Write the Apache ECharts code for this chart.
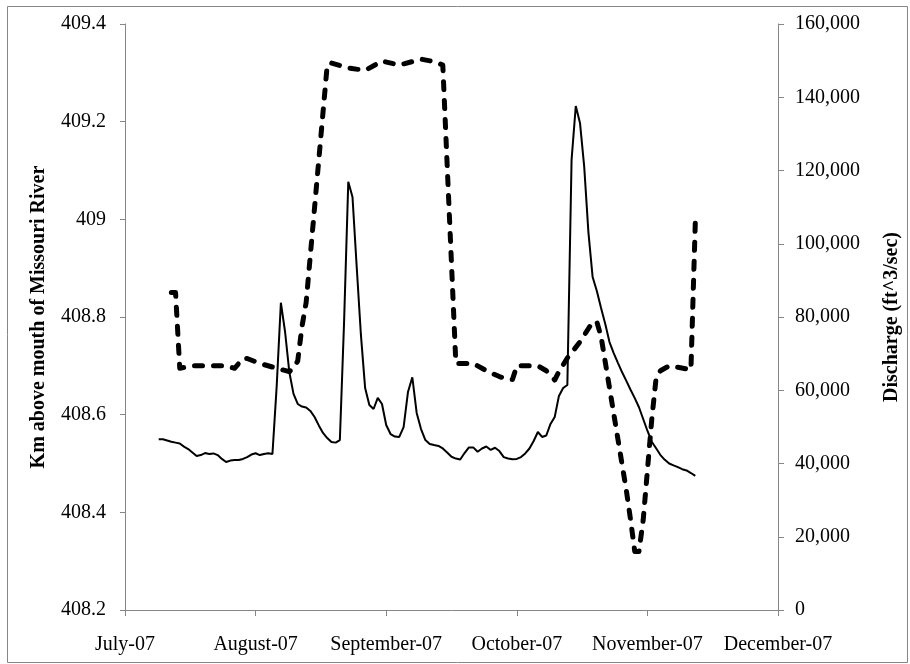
<!DOCTYPE html>
<html>
<head>
<meta charset="utf-8">
<script src="https://cdn.jsdelivr.net/npm/echarts@6/dist/echarts.min.js"></script>
<style>
  html, body { margin: 0; padding: 0; background: #fff; }
  #chart { width: 910px; height: 664px; }
</style>
</head>
<body>
<div id="chart"></div>
<script>
// X axis tick labels (one per month, equally spaced)
const monthLabels = ['July-07', 'August-07', 'September-07', 'October-07', 'November-07', 'December-07'];

// Location (km above mouth of Missouri River) – dashed line, left axis
const kmDates = ['2007-07-12','2007-07-13','2007-07-14','2007-07-17','2007-07-20','2007-07-25','2007-07-27',
  '2007-07-29','2007-07-30','2007-08-02','2007-08-06','2007-08-09','2007-08-10','2007-08-11','2007-08-12',
  '2007-08-13','2007-08-18','2007-08-19','2007-08-23','2007-08-27','2007-08-31','2007-09-04','2007-09-07',
  '2007-09-09','2007-09-12','2007-09-14','2007-09-17','2007-09-19','2007-09-21','2007-09-24','2007-09-27',
  '2007-09-29','2007-09-30','2007-10-01','2007-10-06','2007-10-08','2007-10-10','2007-10-11','2007-10-13',
  '2007-10-16','2007-10-19','2007-10-20','2007-10-21','2007-10-27','2007-10-28','2007-10-29','2007-10-30',
  '2007-10-31','2007-11-02','2007-11-03','2007-11-04','2007-11-06','2007-11-08','2007-11-11','2007-11-12'];
const kmValues = [408.85, 408.85, 408.695, 408.70, 408.70, 408.70, 408.695,
  408.715, 408.715, 408.705, 408.695, 408.688, 408.695, 408.71, 408.78,
  408.83, 409.316, 409.32, 409.31, 409.305, 409.324, 409.316, 409.323,
  409.328, 409.323, 409.316, 408.705, 408.705, 408.705, 408.69, 408.678,
  408.672, 408.672, 408.70, 408.70, 408.69, 408.671, 408.688, 408.716,
  408.749, 408.79, 408.79, 408.76, 408.445, 408.385, 408.32, 408.32,
  408.384, 408.59, 408.675, 408.69, 408.70, 408.697, 408.692, 408.993];

// Daily discharge (ft^3/sec) – solid line, right axis
const qStart = '2007-07-09';
const qValues = [
  // July 9 - 31
  46600, 46600, 46300, 45950, 45700, 45450, 44600, 43950, 43000, 42050, 42300, 42850, 42600, 42750, 42300,
  41250, 40400, 40800, 40950, 40950, 41250, 41750, 42450,
  // August
  42800, 42300, 42600, 42800, 42600, 61000, 83900, 75900, 65000, 59000, 56250, 55550, 55300, 54350, 52700,
  50400, 48350, 46950, 45850, 45700, 46400, 78600, 116900, 112770, 93650, 75100, 60600, 55970, 54880, 57900, 56250,
  // September
  50500, 48050, 47350, 47250, 49950, 59500, 63550, 53800, 49400, 46400, 45350, 45050, 44800, 44100, 43000,
  41850, 41350, 41100, 42850, 44400, 44400, 43200, 44100, 44650, 43700, 44300, 43400, 41750, 41350, 41150,
  // October
  41250, 41750, 42750, 44100, 46150, 48600, 47250, 47650, 50800, 52700, 58450, 60600, 61450, 122900, 137600,
  133000, 121050, 103100, 90900, 87100, 82450, 78100, 73150, 70150, 67500, 64900, 62550, 60150, 57850, 55350, 52150,
  // November 1 - 12
  48950, 45950, 44150, 42300, 41000, 40000, 39500, 39000, 38450, 38100, 37400, 36600
];

// Convert a date to an axis position in "months since July 1 2007" (months drawn equally wide)
function monthPos(y, m, d) {
  const dim = new Date(Date.UTC(y, m, 0)).getUTCDate();
  return (m - 7) + (d - 1) / dim;
}
function posFromStr(s) {
  const p = s.split('-').map(Number);
  return monthPos(p[0], p[1], p[2]);
}

const kmData = kmDates.map((d, i) => [posFromStr(d), kmValues[i]]);
const startP = qStart.split('-').map(Number);
const qData = qValues.map((v, i) => {
  const dt = new Date(Date.UTC(startP[0], startP[1] - 1, startP[2] + i));
  return [monthPos(dt.getUTCFullYear(), dt.getUTCMonth() + 1, dt.getUTCDate()), v];
});

const FONT = 'Liberation Serif';
const AXIS_COLOR = '#868686';

const chart = echarts.init(document.getElementById('chart'), null, { renderer: 'canvas' });
chart.setOption({
  animation: false,
  backgroundColor: '#fff',
  textStyle: { fontFamily: FONT },
  grid: { left: 125, right: 128, top: 24, bottom: 54, containLabel: false },
  graphic: [{
    type: 'rect',
    shape: { x: 7.5, y: 6.5, width: 900, height: 656 },
    style: { fill: 'none', stroke: AXIS_COLOR, lineWidth: 1 },
    silent: true
  }],
  xAxis: {
    type: 'value',
    min: 0, max: 5, interval: 1,
    axisLine: { show: true, lineStyle: { color: AXIS_COLOR, width: 1 } },
    axisTick: { show: true, inside: false, length: 6, lineStyle: { color: AXIS_COLOR } },
    splitLine: { show: false },
    axisLabel: {
      margin: 25,
      color: '#000',
      fontFamily: FONT,
      fontSize: 20,
      formatter: v => monthLabels[Math.round(v)]
    }
  },
  yAxis: [{
    type: 'value',
    position: 'left',
    min: 408.2, max: 409.4, interval: 0.2,
    name: 'Km above mouth of Missouri River',
    nameLocation: 'middle',
    nameRotate: 90,
    nameGap: 76,
    nameTextStyle: { fontFamily: FONT, fontSize: 20, fontWeight: 'bold', color: '#000' },
    axisLine: { show: true, lineStyle: { color: AXIS_COLOR, width: 1 } },
    axisTick: { show: true, inside: false, length: 5, lineStyle: { color: AXIS_COLOR } },
    splitLine: { show: false },
    axisLabel: {
      margin: 19,
      color: '#000',
      fontFamily: FONT,
      fontSize: 20,
      formatter: v => String(Math.round(v * 10) / 10)
    }
  }, {
    type: 'value',
    position: 'right',
    min: 0, max: 160000, interval: 20000,
    name: 'Discharge (ft^3/sec)',
    nameLocation: 'middle',
    nameRotate: 90,
    nameGap: 104,
    nameTextStyle: { fontFamily: FONT, fontSize: 20, fontWeight: 'bold', color: '#000' },
    axisLine: { show: true, lineStyle: { color: AXIS_COLOR, width: 1 } },
    axisTick: { show: true, inside: false, length: 6, lineStyle: { color: AXIS_COLOR } },
    splitLine: { show: false },
    axisLabel: {
      margin: 17,
      color: '#000',
      fontFamily: FONT,
      fontSize: 20,
      formatter: v => Number(v).toLocaleString('en-US')
    }
  }],
  series: [{
    name: 'Discharge',
    type: 'line',
    yAxisIndex: 1,
    data: qData,
    showSymbol: false,
    symbol: 'none',
    lineStyle: { color: '#000', width: 2 },
    z: 2
  }, {
    name: 'Location',
    type: 'line',
    yAxisIndex: 0,
    data: kmData,
    showSymbol: false,
    symbol: 'none',
    lineStyle: { color: '#000', width: 5, type: [8, 11], cap: 'round', join: 'round' },
    z: 3
  }]
});
</script>
</body>
</html>
